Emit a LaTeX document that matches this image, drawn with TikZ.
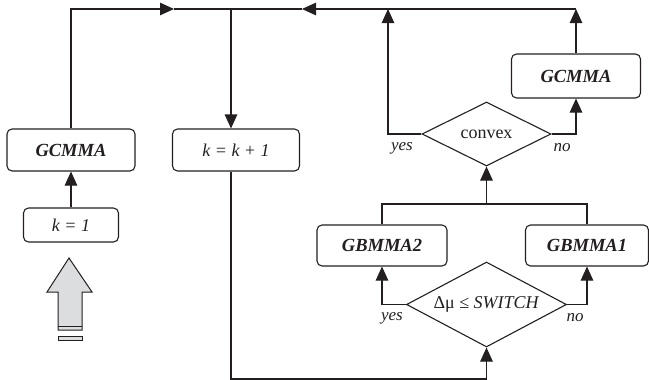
\documentclass[tikz,border=0pt]{standalone}
\usepackage{fontspec}
\setmainfont{Liberation Serif}
\usetikzlibrary{shapes.geometric,arrows.meta}
\definecolor{ink}{HTML}{231F20}
\definecolor{arrowgray}{HTML}{DCDDDE}
\begin{document}
\begin{tikzpicture}[x=1pt,y=-1pt,color=ink,line width=1.1pt,
  box/.style={draw,rounded corners=5pt,inner sep=0pt,font=\fontsize{18}{20}\selectfont},
  dia/.style={draw,diamond,inner sep=0pt,font=\fontsize{18}{20}\selectfont},
  arr/.style={-{Triangle[length=14pt,width=12.5pt]}},
  lab/.style={font=\fontsize{17}{19}\selectfont\itshape},
  bold/.style={font=\fontsize{18.5}{20}\selectfont\bfseries\itshape}]
\useasboundingbox (0,0) rectangle (649,380);
% boxes
\node[box,bold,minimum width=128pt,minimum height=42pt] (gcl) at (71,150) {GCMMA};
\node[box,minimum width=95pt,minimum height=34pt] (k1) at (71,225) {\itshape k = 1};
\node[box,minimum width=127pt,minimum height=42pt] (kk) at (236,150) {\itshape k = k + 1};
\node[box,bold,minimum width=129pt,minimum height=44pt] (gcr) at (576,76) {GCMMA};
\node[dia,aspect=2,minimum width=129pt,minimum height=64pt] (cv) at (486.5,134) {convex};
\node[box,bold,minimum width=130pt,minimum height=41pt] (gb2) at (382,245.5) {GBMMA2};
\node[box,bold,minimum width=123pt,minimum height=41pt] (gb1) at (587,245.5) {GBMMA1};
\node[dia,aspect=1.9,minimum width=160pt,minimum height=85pt] (sw) at (486.5,304.5) {Δμ ≤ \textit{SWITCH}};
% labels
\node[lab] (y1) at (402,148) {yes};
\node[lab] (n1) at (562,148) {no};
\node[lab] (y2) at (392,318) {yes};
\node[lab] (n2) at (575,318) {no};
% coordinates
\coordinate (ra) at (174,9);
\coordinate (tj) at (231,9);
\coordinate (la) at (302,9);
\coordinate (yx) at (388,9);
\coordinate (tr) at (576,9);
\coordinate (sp) at (486.5,204);
\coordinate (bl) at (231,379);
% connectors
\draw[arr] (k1.north) -- (gcl.south);
\draw[arr] (gcl.north) |- (ra);
\draw (ra) -- (tj);
\draw[arr] (tr) -- (la);
\draw (la) -- (tj);
\draw[arr] (tj) -- (kk.north -| tj);
\draw[arr] (cv.west) -| (yx);
\draw[arr] (cv.east) -| (gcr.south);
\draw[arr] (gcr.north) -- (tr);
\draw (gb2.north) |- (sp) -| (gb1.north);
\draw[arr] (sp) -- (cv.south);
\draw[arr] (sw.west) -| (gb2.south);
\draw[arr] (sw.east) -| (gb1.south);
\draw[arr] (kk.south -| tj) -- (bl) -| (sw.south);
% start block arrow
\draw[fill=arrowgray,line width=1pt] (69,258) -- (92,292) -- (82,292) -- (82,330) -- (58,330) -- (58,292) -- (47,292) -- cycle;
\draw[line width=1pt] (58,326.5) -- (82,326.5);
\draw[fill=arrowgray,line width=1pt] (58,336.5) rectangle (82,340);
\end{tikzpicture}
\end{document}
